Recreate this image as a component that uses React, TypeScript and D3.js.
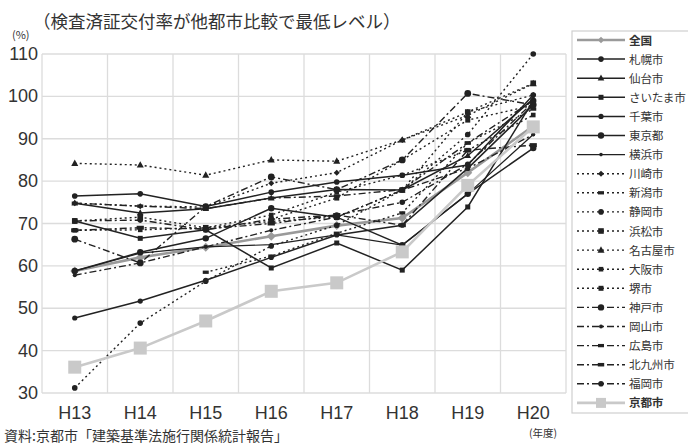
import React from "react";
import * as d3 from "d3";

const years = ["H13", "H14", "H15", "H16", "H17", "H18", "H19", "H20"];
const yTicks = [30, 40, 50, 60, 70, 80, 90, 100, 110];

type V = number | null;
const zenkoku: V[] = [58.8, 62.0, 64.4, 67.0, 69.5, 71.3, 82.0, 93.0];
const sapporo: V[] = [76.5, 77.0, 74.0, 77.4, 79.8, 81.4, 83.8, 100.3];
const sendai: V[] = [74.8, 72.5, 73.5, 76.0, 78.0, 77.9, 86.0, 99.4];
const saitama: V[] = [70.6, 66.5, 68.5, 59.5, 65.4, 59.0, 73.9, 99.0];
const chiba: V[] = [47.7, 51.7, 56.6, 62.0, 67.3, 69.6, 83.0, 98.0];
const tokyo: V[] = [58.8, 63.2, 66.5, 73.6, 71.5, 64.9, 77.0, 87.8];
const yokohama: V[] = [58.8, 63.0, 64.5, 65.0, 67.3, 64.9, 77.0, 91.0];
const kawasaki: V[] = [74.8, 74.1, 73.9, 79.5, 82.0, 89.7, 96.3, 100.3];
const niigata: V[] = [null, null, 58.5, 62.3, 67.7, 72.5, 89.0, 97.0];
const shizuoka: V[] = [31.2, 46.5, 56.4, 64.7, 69.6, 77.9, 91.0, 110.0];
const hamamatsu: V[] = [70.6, 71.5, 69.0, 70.5, 71.5, 77.9, 96.3, 103.1];
const nagoya: V[] = [84.2, 83.8, 81.4, 85.0, 84.7, 89.7, 95.5, 103.0];
const osaka: V[] = [68.4, 68.5, 69.0, 72.0, 77.4, 81.4, 87.3, 95.6];
const sakai: V[] = [null, null, null, 71.0, 76.0, 85.0, 94.4, 97.9];
const kobe: V[] = [66.3, 60.7, 74.0, 81.0, 78.0, 85.0, 100.7, 98.0];
const okayama: V[] = [57.8, 60.7, 64.5, 68.4, 71.5, 77.9, 83.0, 91.0];
const hiroshima: V[] = [74.8, 74.1, 73.5, 76.0, 76.5, 78.0, 89.0, 99.0];
const kitakyushu: V[] = [68.4, 69.0, 68.7, 70.0, 72.0, 69.6, 87.3, 88.5];
const fukuoka: V[] = [70.6, 70.8, 68.5, 71.0, 72.0, 75.0, 84.0, 98.6];
const kyoto: V[] = [36.1, 40.6, 47.0, 54.0, 56.0, 63.3, 79.0, 92.8];

type Style = { stroke: string; width: number; dash: string; marker: string; msize: number; mfill: string };
const SOLID = "";
const DOT = "2,3";
const DASHDOT = "7,3,2,3";
const dk = "#222";

const series: { name: string; values: V[]; style: Style }[] = [
  { name: "全国", values: zenkoku, style: { stroke: "#9a9a9a", width: 2.6, dash: SOLID, marker: "diamond", msize: 4.5, mfill: "#9a9a9a" } },
  { name: "札幌市", values: sapporo, style: { stroke: dk, width: 1.5, dash: SOLID, marker: "circle", msize: 2.8, mfill: dk } },
  { name: "仙台市", values: sendai, style: { stroke: dk, width: 1.5, dash: SOLID, marker: "triangle", msize: 3, mfill: dk } },
  { name: "さいたま市", values: saitama, style: { stroke: dk, width: 1.5, dash: SOLID, marker: "square", msize: 2.5, mfill: dk } },
  { name: "千葉市", values: chiba, style: { stroke: dk, width: 1.5, dash: SOLID, marker: "circle", msize: 2.6, mfill: dk } },
  { name: "東京都", values: tokyo, style: { stroke: dk, width: 1.5, dash: SOLID, marker: "circle", msize: 3.2, mfill: dk } },
  { name: "横浜市", values: yokohama, style: { stroke: dk, width: 1.2, dash: SOLID, marker: "circle", msize: 1.8, mfill: dk } },
  { name: "川崎市", values: kawasaki, style: { stroke: dk, width: 1.4, dash: DOT, marker: "diamond", msize: 3, mfill: dk } },
  { name: "新潟市", values: niigata, style: { stroke: dk, width: 1.4, dash: DOT, marker: "dash", msize: 3, mfill: dk } },
  { name: "静岡市", values: shizuoka, style: { stroke: dk, width: 1.4, dash: DOT, marker: "circle", msize: 2.8, mfill: dk } },
  { name: "浜松市", values: hamamatsu, style: { stroke: dk, width: 1.4, dash: DOT, marker: "square", msize: 2.8, mfill: dk } },
  { name: "名古屋市", values: nagoya, style: { stroke: dk, width: 1.4, dash: DOT, marker: "triangle", msize: 3.2, mfill: dk } },
  { name: "大阪市", values: osaka, style: { stroke: dk, width: 1.4, dash: DOT, marker: "square", msize: 2.3, mfill: dk } },
  { name: "堺市", values: sakai, style: { stroke: dk, width: 1.4, dash: DOT, marker: "square", msize: 2.5, mfill: dk } },
  { name: "神戸市", values: kobe, style: { stroke: dk, width: 1.4, dash: DASHDOT, marker: "circle", msize: 3.4, mfill: dk } },
  { name: "岡山市", values: okayama, style: { stroke: dk, width: 1.4, dash: DASHDOT, marker: "circle", msize: 2, mfill: dk } },
  { name: "広島市", values: hiroshima, style: { stroke: dk, width: 1.4, dash: DASHDOT, marker: "dash", msize: 3, mfill: dk } },
  { name: "北九州市", values: kitakyushu, style: { stroke: dk, width: 1.4, dash: DASHDOT, marker: "dash", msize: 3.6, mfill: dk } },
  { name: "福岡市", values: fukuoka, style: { stroke: dk, width: 1.4, dash: DASHDOT, marker: "circle", msize: 2.8, mfill: dk } },
  { name: "京都市", values: kyoto, style: { stroke: "#c9c9c9", width: 2.6, dash: SOLID, marker: "square", msize: 6.5, mfill: "#c9c9c9" } },
];

const JP = "'Noto Sans CJK JP', 'Noto Sans', sans-serif";
const NUM = "'Liberation Sans Narrow', 'Liberation Sans', Arial, sans-serif";

function Marker({ kind, x, y, s, fill }: { kind: string; x: number; y: number; s: number; fill: string }) {
  if (kind === "circle") return <circle cx={x} cy={y} r={s} fill={fill} />;
  if (kind === "square") return <rect x={x - s} y={y - s} width={2 * s} height={2 * s} fill={fill} />;
  if (kind === "triangle")
    return <path d={`M${x},${y - s * 1.2}L${x + s * 1.1},${y + s * 0.8}L${x - s * 1.1},${y + s * 0.8}Z`} fill={fill} />;
  if (kind === "diamond") return <path d={`M${x},${y - s}L${x + s},${y}L${x},${y + s}L${x - s},${y}Z`} fill={fill} />;
  if (kind === "dash") return <rect x={x - s} y={y - s * 0.55} width={2 * s} height={s * 1.1} fill={fill} />;
  return null;
}

export default function App() {
  const W = 688, H = 444;
  const x = d3.scaleBand<string>().domain(years).range([42, 566]).padding(0);
  const y = d3.scaleLinear().domain([30, 110]).range([393, 54]);
  const cx = (k: string) => (x(k) as number) + x.bandwidth() / 2;
  const line = d3
    .line<[string, V]>()
    .defined((d) => d[1] != null)
    .x((d) => cx(d[0]))
    .y((d) => y(d[1] as number));

  const gridX = d3.range(years.length + 1).map((i) => 42 + i * x.step());
  const legendTop = 40;
  const legendStep = 19.1;

  return (
    <svg width={W} height={H} style={{ position: "absolute", left: 0, top: 0, background: "#fff" }}>
      <text x={33} y={28} fontFamily={JP} fontSize={17.5} fill="#333">
        （検査済証交付率が他都市比較で最低レベル）
      </text>
      <text x={12} y={39} fontFamily={JP} fontSize={11} fill="#333">(%)</text>

      {yTicks.map((t) => (
        <line key={"gy" + t} x1={42} x2={566} y1={y(t)} y2={y(t)} stroke="#dcdcdc" strokeWidth={1.3} />
      ))}
      {gridX.map((gx, i) => (
        <line key={"gx" + i} x1={gx} x2={gx} y1={y(110)} y2={y(30)} stroke="#dcdcdc" strokeWidth={1.3} />
      ))}
      {yTicks.map((t) => (
        <text key={"ty" + t} x={38} y={y(t) + 6} textAnchor="end" fontFamily={NUM} fontSize={18} fill="#333">
          {t}
        </text>
      ))}
      {years.map((yr) => (
        <text key={"tx" + yr} x={cx(yr)} y={419} textAnchor="middle" fontFamily={NUM} fontSize={18} fill="#333">
          {yr}
        </text>
      ))}
      <text x={543} y={437} textAnchor="middle" fontFamily={JP} fontSize={10.5} fill="#333">(年度)</text>
      <text x={4} y={441} fontFamily={JP} fontSize={14} fill="#333">資料:京都市「建築基準法施行関係統計報告」</text>

      {series.map((s) => {
        const pts = years.map((yr, i) => [yr, s.values[i]] as [string, V]);
        return (
          <g key={s.name}>
            <path d={line(pts) || ""} fill="none" stroke={s.style.stroke} strokeWidth={s.style.width} strokeDasharray={s.style.dash || undefined} />
            {pts.filter((p) => p[1] != null).map((p) => (
              <Marker key={p[0]} kind={s.style.marker} x={cx(p[0])} y={y(p[1] as number)} s={s.style.msize} fill={s.style.mfill} />
            ))}
          </g>
        );
      })}

      <rect x={572} y={31} width={130} height={382} fill="#fff" stroke="#cfcfcf" strokeWidth={1.2} />
      {series.map((s, i) => {
        const ly = legendTop + i * legendStep;
        return (
          <g key={"lg" + s.name}>
            <line x1={577} x2={625} y1={ly} y2={ly} stroke={s.style.stroke} strokeWidth={s.style.width} strokeDasharray={s.style.dash || undefined} />
            <Marker kind={s.style.marker} x={601} y={ly} s={s.name === "京都市" ? 5 : Math.min(s.style.msize, 3.2)} fill={s.style.mfill} />
            <text x={629} y={ly + 4.5} fontFamily={JP} fontSize={11.6} letterSpacing={-0.2} fontWeight={s.name === "全国" || s.name === "京都市" ? "bold" : "normal"} fill="#333">
              {s.name}
            </text>
          </g>
        );
      })}
    </svg>
  );
}
